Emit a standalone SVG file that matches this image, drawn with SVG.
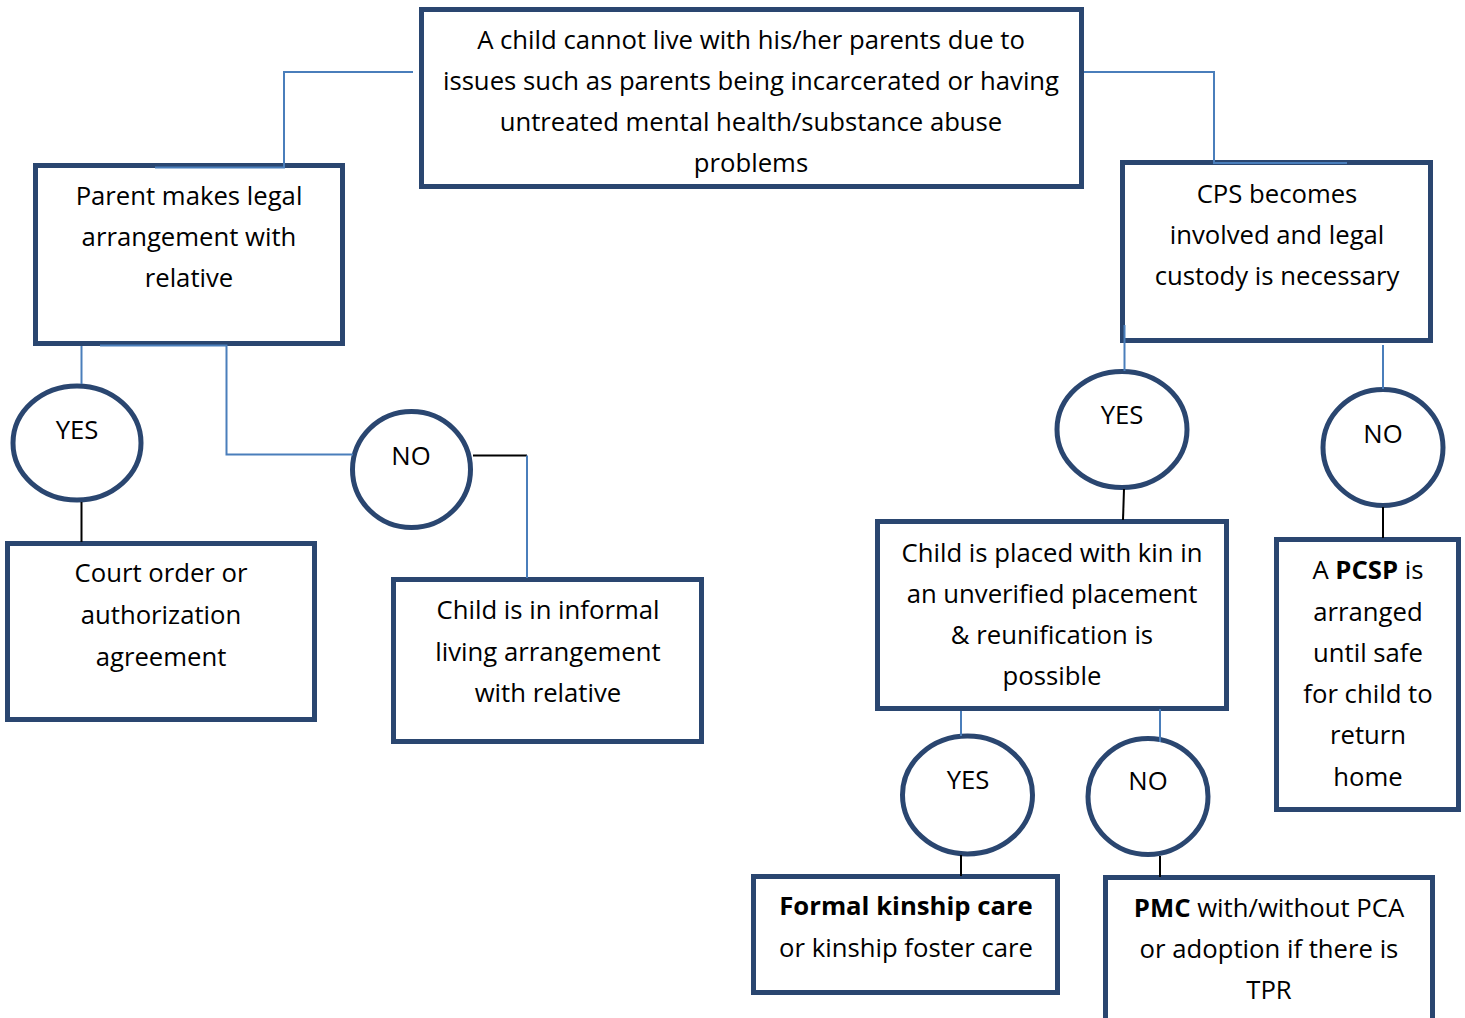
<svg xmlns="http://www.w3.org/2000/svg" width="1465" height="1018" viewBox="0 0 1465 1018">
<style>
.box{fill:#fff;stroke:#2a4670;stroke-width:5}
.oval{fill:#fff;stroke:#2a4670;stroke-width:5}
.t{font-family:"Open Sans","Liberation Sans",sans-serif;font-size:25.7px;fill:#000;text-anchor:middle}
.b{font-weight:bold}
.blue{fill:none;stroke:#4a7ebb;stroke-width:2}
.blk{fill:none;stroke:#000;stroke-width:2}
</style>
<rect width="1465" height="1018" fill="#fff"/>
<g id="n-top">
<rect class="box" x="421.5" y="9.5" width="660" height="177"/>
<text class="t" x="751" y="49">A child cannot live with his/her parents due to</text>
<text class="t" x="751" y="90">issues such as parents being incarcerated or having</text>
<text class="t" x="751" y="131">untreated mental health/substance abuse</text>
<text class="t" x="751" y="172">problems</text>
</g>
<g id="n-parent">
<rect class="box" x="35.5" y="165.5" width="307" height="178"/>
<text class="t" x="189" y="205">Parent makes legal</text>
<text class="t" x="189" y="246">arrangement with</text>
<text class="t" x="189" y="287">relative</text>
</g>
<g id="n-yes-left">
<ellipse class="oval" cx="77" cy="443" rx="64" ry="57"/>
<text class="t" x="77" y="439">YES</text>
</g>
<g id="n-no-left">
<ellipse class="oval" cx="411.5" cy="469.5" rx="59" ry="58"/>
<text class="t" x="411" y="465">NO</text>
</g>
<g id="n-court">
<rect class="box" x="7.5" y="543.5" width="307" height="176"/>
<text class="t" x="161" y="582">Court order or</text>
<text class="t" x="161" y="624">authorization</text>
<text class="t" x="161" y="666">agreement</text>
</g>
<g id="n-informal">
<rect class="box" x="393.5" y="579.5" width="308" height="162"/>
<text class="t" x="548" y="619">Child is in informal</text>
<text class="t" x="548" y="661">living arrangement</text>
<text class="t" x="548" y="702">with relative</text>
</g>
<g id="n-cps">
<rect class="box" x="1122.5" y="162.5" width="308" height="178"/>
<text class="t" x="1277" y="203">CPS becomes</text>
<text class="t" x="1277" y="244">involved and legal</text>
<text class="t" x="1277" y="285">custody is necessary</text>
</g>
<g id="n-yes-right">
<ellipse class="oval" cx="1122" cy="429.5" rx="65" ry="58"/>
<text class="t" x="1122" y="424">YES</text>
</g>
<g id="n-no-right">
<ellipse class="oval" cx="1383" cy="447.5" rx="60" ry="58"/>
<text class="t" x="1383" y="443">NO</text>
</g>
<g id="n-kin">
<rect class="box" x="877.5" y="521.5" width="349" height="187"/>
<text class="t" x="1052" y="562">Child is placed with kin in</text>
<text class="t" x="1052" y="603">an unverified placement</text>
<text class="t" x="1052" y="644">&amp; reunification is</text>
<text class="t" x="1052" y="685">possible</text>
</g>
<g id="n-pcsp">
<rect class="box" x="1276.5" y="539.5" width="182" height="270"/>
<text class="t" x="1368" y="579">A <tspan class="b">PCSP</tspan> is</text>
<text class="t" x="1368" y="621">arranged</text>
<text class="t" x="1368" y="662">until safe</text>
<text class="t" x="1368" y="703">for child to</text>
<text class="t" x="1368" y="744">return</text>
<text class="t" x="1368" y="786">home</text>
</g>
<g id="n-yes-bottom">
<ellipse class="oval" cx="967.5" cy="795" rx="65" ry="59"/>
<text class="t" x="968" y="789">YES</text>
</g>
<g id="n-no-bottom">
<ellipse class="oval" cx="1148" cy="796.5" rx="60" ry="58"/>
<text class="t" x="1148" y="790">NO</text>
</g>
<g id="n-formal">
<rect class="box" x="753.5" y="876.5" width="304" height="116"/>
<text class="t b" x="906" y="915">Formal kinship care</text>
<text class="t" x="906" y="957">or kinship foster care</text>
</g>
<g id="n-pmc">
<rect class="box" x="1105.5" y="877.5" width="327" height="150"/>
<text class="t" x="1269" y="917"><tspan class="b">PMC</tspan> with/without PCA</text>
<text class="t" x="1269" y="958">or adoption if there is</text>
<text class="t" x="1269" y="999">TPR</text>
</g>
<g id="connectors">
<path class="blue" d="M413,72 H284 V167.5 H155"/>
<path class="blue" d="M81.5,346 V384"/>
<path class="blue" d="M100,345.5 H226.5 V454.5 H353"/>
<path class="blk" d="M473,455.5 H527"/>
<path class="blue" d="M527,455.5 V578"/>
<path class="blk" d="M81.5,502 V542"/>
<path class="blue" d="M1084,72 H1214 V163 H1347"/>
<path class="blue" d="M1124.5,325 V371"/>
<path class="blk" d="M1124,489 L1123,520"/>
<path class="blue" d="M1383,345 V389"/>
<path class="blk" d="M1383,507 V538"/>
<path class="blue" d="M961,711 V736"/>
<path class="blue" d="M1160,709 V742"/>
<path class="blk" d="M961,855 V876"/>
<path class="blk" d="M1160,856 V877"/>
</g>
</svg>
